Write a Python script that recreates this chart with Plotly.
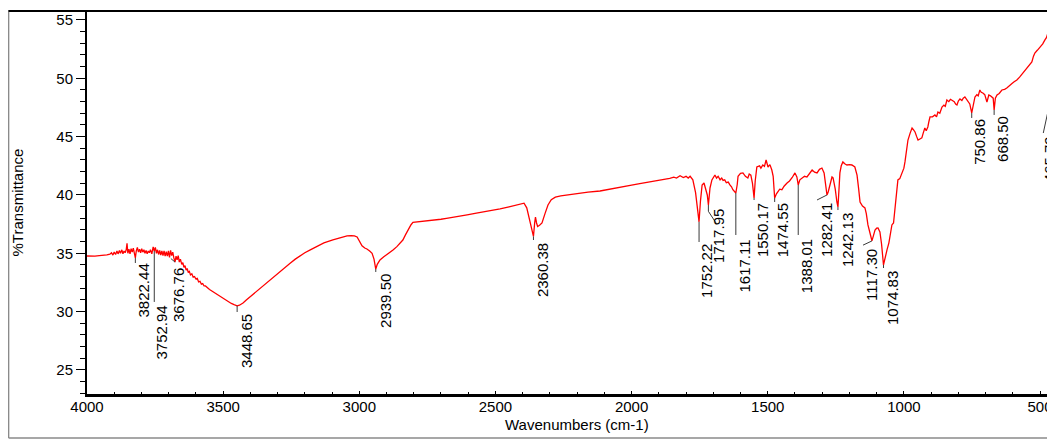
import plotly.graph_objects as go

# ---------------- data ----------------
wavenumber = [
    4000, 3985, 3971, 3955, 3941, 3927, 3916, 3910, 3905, 3900, 3895, 3890, 3886, 3881, 3877, 3872,
    3868, 3864, 3860, 3856, 3853, 3850, 3846, 3842, 3838, 3834, 3830, 3826, 3822.44, 3819, 3815, 3811,
    3807, 3803, 3799, 3795, 3791, 3787, 3783, 3779, 3775, 3771, 3767, 3762, 3757, 3752.94, 3749, 3745,
    3741, 3737, 3733, 3729, 3725, 3721, 3717, 3713, 3709, 3705, 3701, 3697, 3693, 3689, 3685, 3681,
    3676.76, 3673, 3669, 3665, 3661, 3657, 3652, 3648, 3644, 3640, 3636, 3632, 3628, 3624, 3620, 3615,
    3610, 3605, 3600, 3595, 3590, 3585, 3580, 3575, 3570, 3565, 3559, 3550, 3540, 3530, 3520, 3510,
    3500, 3490, 3480, 3470, 3460, 3448.65, 3440, 3427, 3415, 3400, 3390, 3376, 3360, 3339, 3320, 3302,
    3280, 3254, 3235, 3218, 3200, 3180, 3155, 3130, 3097, 3070, 3045, 3030, 3018, 3008, 3000, 2990,
    2980, 2972, 2962, 2953, 2946, 2939.50, 2934, 2924, 2910, 2900, 2887, 2875, 2862, 2850, 2840, 2830,
    2820, 2810, 2803, 2790, 2770, 2750, 2729, 2700, 2680, 2650, 2630, 2604, 2570, 2540, 2510, 2483,
    2450, 2420, 2395, 2385, 2375, 2365, 2360.38, 2356, 2353, 2349, 2345, 2338, 2329, 2318, 2307, 2295,
    2280, 2260, 2237, 2200, 2160, 2116, 2080, 2050, 2020, 2000, 1970, 1950, 1920, 1900, 1880, 1860,
    1845, 1835, 1822, 1810, 1800, 1792, 1785, 1775, 1765, 1757, 1752.22, 1747, 1741, 1734, 1728, 1722,
    1717.95, 1712, 1705, 1700, 1694, 1688, 1682, 1675, 1669, 1664, 1658, 1652, 1645, 1639, 1633, 1628,
    1617.11, 1612, 1609, 1600, 1591, 1582, 1573, 1568, 1562, 1556, 1550.17, 1546, 1540, 1530, 1525, 1518,
    1512, 1506, 1499, 1492, 1485, 1480, 1474.55, 1468, 1463, 1456, 1448, 1440, 1429, 1420, 1410, 1400,
    1393, 1388.01, 1382, 1374, 1365, 1356, 1345, 1337, 1328, 1319, 1310, 1301, 1293, 1287, 1282.41, 1278,
    1270, 1264, 1260, 1252, 1246, 1242.13, 1238, 1235, 1230, 1224, 1216, 1209, 1200, 1191, 1180, 1172,
    1166, 1161, 1152, 1143, 1138, 1132, 1124, 1117.30, 1112, 1106, 1100, 1095, 1088, 1082, 1074.83, 1068,
    1062, 1055, 1050, 1044, 1038, 1033, 1028, 1022, 1015, 1007, 1000, 996, 990, 985, 977, 970,
    965, 959, 953, 948, 941, 934, 929, 923, 918, 912, 908, 904, 895, 886, 880, 875,
    868, 860, 853, 848, 842, 835, 829, 823, 815, 810, 805, 800, 794, 787, 782, 776,
    770, 765, 758, 750.86, 745, 739, 732, 727, 721, 716, 710, 703, 695, 691, 688, 682,
    677, 672, 668.50, 664, 658, 650, 640, 630, 622, 612, 603, 595, 585, 575, 565, 555,
    548, 540, 530, 524, 519, 510, 500, 490, 482, 476, 471, 468, 465.79, 462, 458, 455,
    453, 449, 446,
]
transmittance = [
    34.77, 34.75, 34.76, 34.80, 34.82, 34.86, 34.92, 35.05, 34.85, 35.10, 34.90, 35.20, 34.95, 35.25, 35.00, 35.30,
    34.95, 35.20, 35.05, 35.30, 35.85, 35.00, 35.35, 34.95, 35.40, 35.10, 35.45, 35.00, 34.60, 35.20, 35.50, 35.10,
    35.35, 35.05, 35.40, 35.10, 35.30, 35.00, 35.25, 34.95, 35.20, 35.05, 35.30, 34.95, 35.55, 35.20, 35.50, 35.00,
    35.30, 34.90, 35.25, 34.85, 35.20, 34.80, 35.20, 34.75, 35.15, 34.75, 35.20, 34.65, 35.25, 34.80, 35.10, 34.60,
    34.25, 34.75, 34.45, 34.80, 34.25, 34.50, 34.05, 34.20, 33.80, 33.95, 33.55, 33.70, 33.35, 33.45, 33.15, 33.25,
    32.95, 33.00, 32.80, 32.85, 32.55, 32.60, 32.35, 32.40, 32.20, 32.20, 32.05, 31.90, 31.75, 31.60, 31.45, 31.30,
    31.15, 30.95, 30.80, 30.70, 30.60, 30.50, 30.55, 30.74, 31.00, 31.30, 31.50, 31.75, 32.05, 32.45, 32.85, 33.20,
    33.65, 34.15, 34.50, 34.80, 35.05, 35.30, 35.60, 35.90, 36.15, 36.35, 36.49, 36.52, 36.50, 36.40, 36.10, 35.65,
    35.45, 35.37, 35.20, 35.00, 34.50, 33.65, 34.05, 34.43, 34.70, 34.85, 35.05, 35.30, 35.57, 35.85, 36.14, 36.60,
    37.05, 37.45, 37.65, 37.68, 37.72, 37.75, 37.80, 37.92, 38.00, 38.10, 38.20, 38.30, 38.45, 38.55, 38.68, 38.80,
    38.98, 39.15, 39.30, 38.90, 37.90, 36.90, 36.45, 37.60, 38.10, 37.60, 37.30, 37.40, 37.60, 38.40, 39.14, 39.60,
    39.82, 39.92, 40.00, 40.12, 40.25, 40.34, 40.48, 40.60, 40.72, 40.85, 40.98, 41.05, 41.18, 41.25, 41.35, 41.42,
    41.52, 41.45, 41.65, 41.50, 41.60, 41.45, 41.60, 41.30, 40.20, 38.80, 37.70, 39.50, 40.86, 41.03, 40.60, 40.00,
    39.14, 40.60, 41.29, 41.55, 41.71, 41.45, 41.60, 41.30, 41.45, 41.25, 41.30, 41.05, 41.10, 40.86, 40.70, 40.45,
    40.17, 40.90, 41.60, 41.85, 41.89, 41.60, 41.46, 41.80, 41.70, 41.00, 39.74, 41.20, 42.40, 42.50, 42.30, 42.57,
    42.45, 43.00, 42.40, 42.60, 42.14, 41.60, 39.74, 40.10, 40.26, 40.50, 40.45, 40.75, 41.03, 41.20, 41.50, 41.89,
    41.54, 40.86, 41.30, 41.46, 41.60, 41.54, 41.90, 42.14, 41.95, 41.89, 42.20, 42.31, 41.89, 40.90, 40.00, 40.26,
    40.90, 41.54, 41.46, 40.50, 39.40, 38.97, 40.60, 41.89, 42.50, 42.83, 42.65, 42.57, 42.60, 42.57, 42.40, 41.70,
    40.50, 39.40, 39.05, 38.89, 38.40, 37.43, 36.70, 36.06, 36.50, 37.00, 37.15, 37.17, 36.83, 35.80, 34.00, 34.80,
    35.29, 35.90, 36.50, 37.43, 37.60, 38.71, 39.80, 41.29, 41.40, 41.89, 42.30, 42.83, 43.80, 44.71, 45.30, 45.74,
    45.60, 45.40, 45.00, 44.71, 44.80, 44.89, 45.30, 45.74, 45.50, 45.83, 46.30, 46.69, 46.70, 46.86, 46.70, 47.11,
    47.00, 47.54, 47.70, 47.60, 48.14, 48.00, 48.20, 48.14, 48.00, 47.80, 47.71, 48.05, 48.23, 48.10, 48.30, 48.40,
    48.20, 47.97, 47.80, 47.03, 47.70, 48.40, 48.60, 48.50, 49.00, 48.80, 48.74, 48.60, 47.97, 48.30, 48.57, 48.50,
    48.40, 48.30, 47.29, 48.30, 48.57, 48.70, 49.00, 49.05, 49.17, 49.40, 49.55, 49.70, 49.86, 50.10, 50.40, 50.60,
    50.89, 51.10, 51.40, 51.90, 52.17, 52.40, 52.69, 52.95, 53.29, 53.50, 53.89, 53.60, 53.50, 53.90, 53.80, 54.40,
    55.26, 55.43, 55.40,
]

# picked peaks (wavenumber, label text)
peak_wn = [3822.44, 3752.94, 3676.76, 3448.65, 2939.50, 2360.38, 1752.22, 1717.95, 1617.11, 1550.17,
           1474.55, 1388.01, 1282.41, 1242.13, 1117.30, 1074.83, 750.86, 668.50, 465.79]
peak_labels = ["3822.44", "3752.94", "3676.76", "3448.65", "2939.50", "2360.38", "1752.22", "1717.95",
               "1617.11", "1550.17", "1474.55", "1388.01", "1282.41", "1242.13", "1117.30", "1074.83",
               "750.86", "668.50", "465.79"]
peak_T = [34.60, 35.20, 34.25, 30.50, 33.65, 36.45, 37.70, 39.14, 40.17, 39.74,
          39.74, 40.86, 40.00, 38.97, 36.06, 34.00, 47.03, 47.29, 53.50]

x_ticks = [4000, 3500, 3000, 2500, 2000, 1500, 1000, 500]
y_ticks = [25, 30, 35, 40, 45, 50, 55]

# ---------------- label placement (layout) ----------------
# leader polyline after the peak point: list of (wn, T) vertices
leader_pts = [
    [(3822.44, 34.17)],
    [(3752.94, 30.83)],
    [(3692.0, 34.55)],
    [(3448.65, 29.97)],
    [(2939.50, 33.40)],
    [(2360.38, 36.14)],
    [(1752.22, 35.97)],
    [(1717.95, 38.60), (1690.0, 37.6)],
    [(1617.11, 36.57)],
    [(1550.17, 39.57)],
    [(1474.55, 39.40)],
    [(1388.01, 36.57)],
    [(1319.0, 39.57)],
    [(1242.13, 38.71)],
    [(1150.0, 35.70)],
    [(1074.83, 33.74)],
    [(750.86, 46.60)],
    [(668.50, 46.86)],
    [(465.79, 47.71), (488.0, 45.31)],
]
label_wn = [3794, 3725, 3662, 3412, 2906, 2325, 1723, 1679, 1583.5, 1517,
            1443, 1359, 1282.4, 1209, 1117.3, 1040, 721, 636, 466.0]
label_top = [34.22, 30.60, 33.83, 29.89, 33.31, 35.97, 35.89, 38.89, 36.31, 39.40,
             39.40, 36.31, 39.40, 38.54, 35.46, 33.57, 46.60, 46.86, 45.14]

FONT = "Liberation Sans, Arial, Helvetica, sans-serif"

fig = go.Figure()

fig.add_trace(go.Scatter(
    x=wavenumber, y=transmittance, mode="lines",
    line=dict(color="#ff0000", width=1.3), hoverinfo="skip", showlegend=False,
))

lx, ly = [], []
for wn, t, pts in zip(peak_wn, peak_T, leader_pts):
    lx.append(wn)
    ly.append(t)
    for (a, b) in pts:
        lx.append(a)
        ly.append(b)
    lx.append(None)
    ly.append(None)
fig.add_trace(go.Scatter(
    x=lx, y=ly, mode="lines", line=dict(color="#3a3a3a", width=1),
    hoverinfo="skip", showlegend=False, connectgaps=False,
))

annotations = []
for txt, xw, yt in zip(peak_labels, label_wn, label_top):
    annotations.append(dict(
        x=xw, y=yt, xref="x", yref="y", text=txt, showarrow=False,
        textangle=-90, xanchor="center", yanchor="top",
        font=dict(family=FONT, size=15, color="#000000"), borderpad=0,
    ))

annotations.append(dict(
    x=-0.0713, y=0.5, xref="paper", yref="paper", text="%Transmittance",
    showarrow=False, textangle=-90, xanchor="center", yanchor="middle",
    font=dict(family=FONT, size=15, color="#000000"),
))
annotations.append(dict(
    x=0.506, y=-0.079, xref="paper", yref="paper", text="Wavenumbers (cm-1)",
    showarrow=False, xanchor="center", yanchor="middle",
    font=dict(family=FONT, size=15, color="#000000"), borderpad=0,
))

shapes = [
    # outer frame
    dict(type="line", xref="paper", yref="paper", x0=-0.0810, x1=-0.0810, y0=1.0026, y1=-0.1149,
         line=dict(color="#8a8a8a", width=1.5)),
    dict(type="line", xref="paper", yref="paper", x0=-0.0810, x1=1.01, y0=-0.1149, y1=-0.1149,
         line=dict(color="#8a8a8a", width=1.5)),
    dict(type="line", xref="paper", yref="paper", x0=-0.0810, x1=1.01, y0=1.0, y1=1.0,
         line=dict(color="#000000", width=2)),
]

# the page body has an 8px margin: figure origin sits at (8, 8) in the window
fig.update_layout(
    width=1047, height=432,
    margin=dict(l=79, r=0, t=3, b=46, pad=0),
    paper_bgcolor="white", plot_bgcolor="white",
    showlegend=False,
    annotations=annotations, shapes=shapes,
    font=dict(family=FONT, size=15, color="#000000"),
)
fig.update_xaxes(
    range=[4000, 445], tickmode="array", tickvals=x_ticks, ticktext=[str(v) for v in x_ticks],
    showgrid=False, zeroline=False, showline=True, linecolor="#000000", linewidth=2.5,
    ticks="inside", ticklen=3, tickwidth=1, tickcolor="#000000",
    minor=dict(dtick=100, ticks="inside", ticklen=2, tickcolor="#000000", showgrid=False),
    tickfont=dict(family=FONT, size=15, color="#000000"),
    ticklabelstandoff=-3,
    automargin=False,
)
fig.update_yaxes(
    range=[22.94, 55.77], tickmode="array", tickvals=y_ticks, ticktext=[str(v) for v in y_ticks],
    showgrid=False, zeroline=False, showline=True, linecolor="#000000", linewidth=2,
    ticks="outside", ticklen=9, tickwidth=1, tickcolor="#000000",
    minor=dict(dtick=1, tick0=0, ticks="outside", ticklen=5, tickcolor="#000000", showgrid=False),
    tickfont=dict(family=FONT, size=15, color="#000000"),
    automargin=False,
)

fig.write_html("out.html")
